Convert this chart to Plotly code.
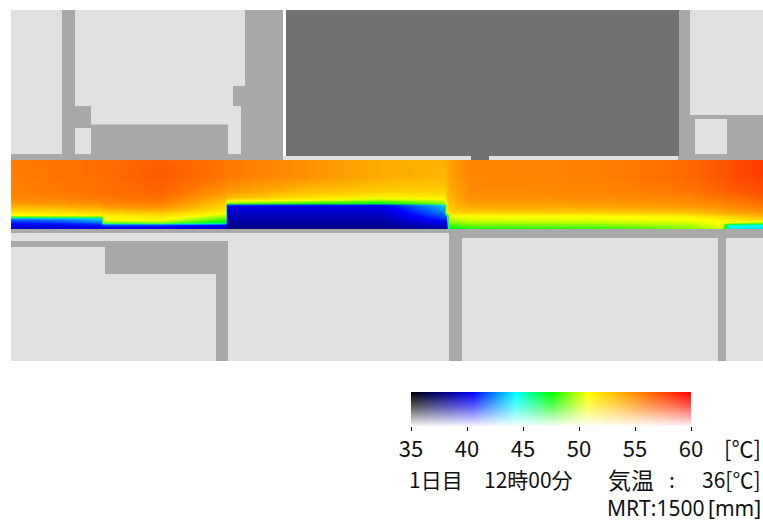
import plotly.graph_objects as go

W, H = 763, 522

# --- colour scale (temperature, deg C) ---
scale_min, scale_max = 35, 60
scale_stops = [
    (35.0, "#000000"), (40.5, "#0000ff"), (44.3, "#00ffff"), (47.5, "#00ff00"),
    (50.7, "#ffff00"), (55.5, "#ff8000"), (60.0, "#ff0000"),
]
tick_values = [35, 40, 45, 50, 55, 60]
air_temperature = 36
scale_samples = [35, 36, 37, 38, 39, 40, 41, 42, 43, 44, 45, 46, 47, 48, 49, 50, 51, 52, 53,
                 54, 55, 56, 57, 58, 59, 60]

# --- surface temperature ---
field_x = [11, 60, 101, 103, 160, 225, 227, 300, 380, 444, 446.5, 449, 470, 600, 690, 722, 728, 763]
field_y = [160, 175, 190, 197, 200, 203, 204.5, 206, 212, 215, 218, 220, 222, 224, 226, 229]
field_t = [
    [55.7, 55.9, 56.2, 56.2, 56.6, 55.9, 55.8, 54.9, 53.9, 53.6, 53.8, 54.2, 55.3, 55.5, 56.3, 57.0, 57.2, 57.9],
    [55.6, 55.9, 56.2, 56.2, 56.8, 55.9, 55.8, 54.9, 53.9, 53.5, 53.7, 54.2, 55.3, 55.5, 56.3, 57.0, 57.2, 57.9],
    [55.5, 55.8, 56.0, 56.1, 56.5, 54.8, 54.6, 53.4, 52.6, 52.6, 53.0, 53.8, 55.1, 55.3, 55.9, 56.5, 56.7, 57.3],
    [55.2, 55.5, 55.7, 55.8, 56.1, 53.7, 53.3, 51.8, 51.0, 51.2, 52.4, 53.5, 54.8, 55.0, 55.4, 55.9, 56.1, 56.7],
    [54.9, 55.1, 55.3, 55.5, 55.8, 53.2, 51.0, 50.2, 49.0, 50.0, 52.0, 53.3, 54.6, 54.7, 55.1, 55.6, 55.7, 56.3],
    [54.4, 54.6, 54.9, 55.2, 55.5, 52.7, 48.5, 47.6, 46.8, 49.0, 51.8, 53.1, 54.3, 54.4, 54.8, 55.3, 55.4, 56.0],
    [54.0, 54.2, 54.6, 54.9, 55.2, 52.5, 41.5, 41.0, 40.6, 44.0, 51.6, 52.9, 54.1, 54.2, 54.6, 55.1, 55.3, 55.8],
    [53.5, 53.7, 54.2, 54.6, 54.9, 52.3, 40.0, 40.0, 40.0, 43.2, 51.4, 52.8, 53.9, 54.0, 54.4, 54.9, 55.1, 55.6],
    [51.4, 51.6, 52.0, 52.4, 53.0, 50.9, 39.3, 39.3, 39.3, 42.4, 50.8, 52.2, 52.4, 52.5, 53.0, 53.8, 54.0, 54.6],
    [50.6, 50.8, 51.0, 51.0, 51.8, 49.8, 39.0, 39.0, 39.0, 41.8, 42.0, 50.6, 50.7, 50.8, 51.4, 52.4, 52.6, 53.6],
    [42.5, 43.0, 43.5, 50.8, 51.0, 48.6, 38.8, 38.8, 38.8, 41.2, 41.2, 50.0, 50.4, 50.5, 50.8, 51.4, 51.6, 52.6],
    [41.5, 42.0, 43.0, 50.4, 50.6, 47.6, 38.6, 38.6, 38.6, 40.6, 40.6, 49.6, 50.0, 50.2, 50.5, 51.0, 51.2, 51.0],
    [40.8, 41.2, 42.0, 48.6, 49.2, 46.6, 38.4, 38.4, 38.4, 40.0, 40.0, 49.0, 49.6, 49.8, 50.2, 50.8, 51.0, 49.5],
    [40.4, 40.6, 41.0, 41.6, 41.6, 40.8, 38.2, 38.2, 38.2, 39.4, 39.4, 48.4, 49.0, 49.2, 49.8, 50.6, 45.5, 44.6],
    [39.8, 40.0, 40.4, 40.8, 40.6, 39.8, 38.0, 38.0, 38.0, 38.8, 38.8, 47.8, 48.4, 48.6, 49.4, 50.4, 44.4, 44.0],
    [38.8, 39.0, 39.4, 39.8, 39.6, 39.0, 37.6, 37.6, 37.6, 38.2, 38.2, 47.2, 47.6, 47.8, 48.8, 50.0, 43.8, 43.4],
]

# --- site plan: (x0, y0, x1, y1) in plan units, one list per surface tone ---
light_blocks = [
    (11, 10, 283, 160), (690, 10, 763, 160), (283, 156, 679, 160),
    (11, 229, 763, 361),
]
mid_blocks = [
    (62, 10, 75, 154), (75, 106, 91, 128), (62, 128, 73, 154), (91, 124.5, 228, 154),
    (233, 86, 245, 106), (245, 10, 283, 106), (241, 106, 283, 160), (11, 154, 283, 160),
    (678, 10, 690, 160), (690, 115, 763, 119), (690, 119, 695, 154), (727, 119, 763, 154),
    (678, 154, 763, 160),
    (11, 229, 763, 233), (462, 233, 763, 238), (11, 241, 105, 247), (105, 241, 228, 274),
    (216, 274, 228, 361), (449, 233, 462, 361), (718, 238, 726, 361),
]
dark_blocks = [(286, 10, 679, 156), (471, 156, 489, 160)]
white_blocks = [(283, 10, 286, 156)]
tone_light, tone_mid, tone_dark, tone_white = "#e1e1e1", "#a9a9a9", "#727272", "#ffffff"

# --- captions: (text, x, y, anchor, family, size) ---
CJK = "Noto Sans CJK JP"
LATIN = "Noto Sans"
INK = "#111111"
captions = [
    ("[℃]", 762, 447, "right", CJK, 22),
    ("1日目", 408, 479, "left", CJK, 21),
    ("12時00分", 483, 479, "left", CJK, 21),
    ("気温", 607, 479, "left", CJK, 23),
    (":", 672, 479, "center", CJK, 21),
    ("36[℃]", 762, 479, "right", CJK, 21),
    ("MRT:1500", 606, 508, "left", LATIN, 21),
    ("[mm]", 762, 508, "right", LATIN, 21),
]

colorscale = [[(t - scale_min) / (scale_max - scale_min), c] for t, c in scale_stops]


def rects(blocks, color):
    return [dict(type="rect", xref="x", yref="y", x0=a, y0=b, x1=c, y1=d, fillcolor=color,
                 line_width=0, layer="above") for a, b, c, d in blocks]


fig = go.Figure()

# A thin repeated first column keeps the field's outer cell inside the plan
fig.add_trace(go.Heatmap(
    x=[field_x[0] + 0.1, field_x[0] + 0.2] + field_x[1:], y=field_y,
    z=[[r[0]] + r for r in field_t],
    colorscale=colorscale, zmin=scale_min, zmax=scale_max, zsmooth="best",
    showscale=False, hoverinfo="skip", xaxis="x", yaxis="y",
))

fig.add_trace(go.Heatmap(
    x=scale_samples, y=[0, 1], z=[scale_samples, scale_samples],
    colorscale=colorscale, zmin=scale_min, zmax=scale_max, zsmooth="best",
    showscale=False, hoverinfo="skip", xaxis="x2", yaxis="y2",
))
fig.add_trace(go.Heatmap(
    x=[scale_min, scale_max], y=[0, 0.6, 1], z=[[0.97, 0.97], [0.35, 0.35], [0, 0]],
    colorscale=[[0, "rgba(255,255,255,0)"], [1, "rgba(255,255,255,1)"]], zmin=0, zmax=1,
    zsmooth="best", showscale=False, hoverinfo="skip", xaxis="x2", yaxis="y2",
))
# Pointer at the air temperature
fig.add_trace(go.Scatter(
    x=[air_temperature], y=[1.24], mode="markers", cliponaxis=False,
    marker=dict(symbol="triangle-down", size=24, color="#a9a9a9", line=dict(color="#444444", width=1.2)),
    hoverinfo="skip", xaxis="x2", yaxis="y2",
))
# Small arrowheads on the scale ticks
fig.add_trace(go.Scatter(
    x=tick_values, y=[-0.15] * len(tick_values), mode="markers", cliponaxis=False,
    marker=dict(symbol="triangle-down", size=6, color=INK, line_width=0),
    hoverinfo="skip", xaxis="x2", yaxis="y2",
))

bar_left, bar_right, bar_top, bar_bottom = 411, 691, 392, 426
fig.update_layout(
    width=W, height=H, margin=dict(l=0, r=0, t=0, b=0), autosize=False,
    paper_bgcolor="white", plot_bgcolor="white", showlegend=False,
    font=dict(family=CJK, color=INK),
    xaxis=dict(range=[0, W], domain=[0, 1], visible=False, fixedrange=True, automargin=False),
    yaxis=dict(range=[H, 0], domain=[0, 1], visible=False, fixedrange=True, automargin=False),
    xaxis2=dict(range=[scale_min, scale_max], domain=[bar_left / W, bar_right / W], anchor="y2",
                tickvals=tick_values, ticktext=[str(v) for v in tick_values], ticks="outside",
                ticklen=4, tickwidth=1, tickcolor=INK, showgrid=False, zeroline=False, showline=False,
                automargin=False, tickfont=dict(family=CJK, size=22, color=INK), fixedrange=True),
    yaxis2=dict(range=[0, 1], domain=[1 - bar_bottom / H, 1 - bar_top / H], anchor="x2",
                visible=False, fixedrange=True, automargin=False),
    shapes=(rects(light_blocks, tone_light) + rects(mid_blocks, tone_mid)
            + rects(dark_blocks, tone_dark) + rects(white_blocks, tone_white)),
    annotations=[
        dict(text=t, x=x, y=y, xref="x", yref="y", xanchor=a, yanchor="middle", showarrow=False,
             borderpad=0, font=dict(family=f, size=s, color=INK))
        for t, x, y, a, f, s in captions
    ],
)
fig.write_html("out.html", config=dict(displayModeBar=False),
               post_script="document.body.style.margin='0';document.body.style.overflow='hidden';")
